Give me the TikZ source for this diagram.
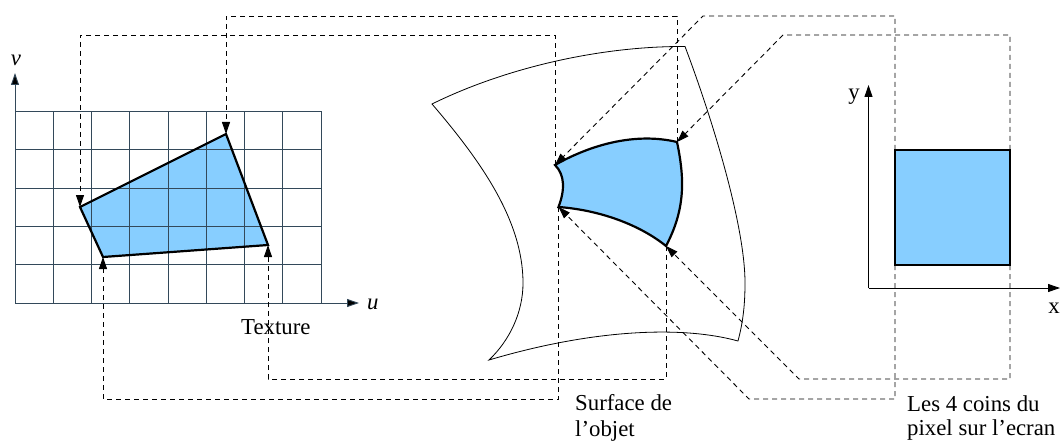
\documentclass[tikz,border=0pt]{standalone}
\usepackage{fontspec}
\setmainfont{Liberation Serif}
\usepackage{tikz}
\usetikzlibrary{arrows.meta,positioning}
\definecolor{patchblue}{HTML}{87CEFF}
\definecolor{gridslate}{HTML}{33495A}

\begin{document}
\begin{tikzpicture}[x=1pt, y=-1pt, line join=miter,
    every node/.style={font=\fontsize{22.8}{26}\selectfont, inner sep=0pt},
    gridline/.style={draw=gridslate, line width=1pt},
    axis/.style={line width=0.9pt, -{Triangle[length=12pt, width=8pt]}},
    patch/.style={draw=black, line width=2.2pt, fill=patchblue},
    outer/.style={draw=black, line width=0.8pt},
    link/.style={line width=0.9pt, dash pattern=on 5pt off 4pt, -{Triangle[length=12pt, width=8pt]}}]
    \useasboundingbox (0,0) rectangle (1060,441);

    % corners of the three quads
    \coordinate (ta) at (80,207);
    \coordinate (tb) at (226,134);
    \coordinate (tc) at (268,245);
    \coordinate (td) at (103,257);
    \coordinate (sa) at (555,165);
    \coordinate (sb) at (677,142);
    \coordinate (sc) at (666,246);
    \coordinate (sd) at (558.5,207);
    \coordinate (pa) at (895,150);
    \coordinate (pb) at (1010,150);
    \coordinate (pc) at (1010,265);
    \coordinate (pd) at (895,265);
    % bends of the dashed links
    \coordinate (high) at (0,16);
    \coordinate (top) at (0,35);
    \coordinate (bot) at (0,379);
    \coordinate (low) at (0,399);
    \coordinate (sadiag) at (703,16);
    \coordinate (sbdiag) at (783,35);
    \coordinate (scdiag) at (799,379);
    \coordinate (sddiag) at (749,399);

    % texture
    \fill[patchblue] (ta) -- (tb) -- (tc) -- (td) -- cycle;
    \foreach \i in {0,...,8}
      \draw[gridline] ({15+38.25*\i},111.5) -- ({15+38.25*\i},303);
    \foreach \j in {0,...,5}
      \draw[gridline] (15,{111.5+38.3*\j}) -- (321,{111.5+38.3*\j});
    \draw[patch, fill=none] (ta) -- (tb) -- (tc) -- (td) -- cycle;
    \coordinate (torigin) at (15,303);
    \coordinate (uend) at (359,303);
    \coordinate (vend) at (15,73);
    \draw[axis, draw=gridslate, -{Triangle[length=12pt, width=8pt, fill=black]}] (torigin) -- (uend);
    \draw[axis, draw=gridslate, -{Triangle[length=12pt, width=8pt, fill=black]}] (torigin) -- (vend);
    \node[anchor=base] (vlabel) at (16,66) {\itshape v};
    \node[anchor=base west] (ulabel) at (367,309) {\itshape u};
    \node[anchor=base west] (texture) at (241,334) {Texture};

    % surface
    \draw[outer] (432,104) .. controls (505,68) and (600,46) .. (685,46.5)
      .. controls (712,118) and (745,225) .. (745,283)
      .. controls (745,305) and (743,322) .. (738,341)
      .. controls (680,325) and (590,330) .. (489,360)
      .. controls (510,340) and (523,312) .. (523,283)
      .. controls (523,220) and (480,160) .. cycle;
    \draw[patch] (sa) .. controls (590,145) and (635,132) .. (sb)
      .. controls (685,180) and (685,210) .. (sc)
      .. controls (640,225) and (600,210) .. (sd)
      .. controls (565,190) and (565,175) .. cycle;

    % screen
    \draw[patch] (pa) -- (pb) -- (pc) -- (pd) -- cycle;
    \coordinate (porigin) at (868.5,288);
    \coordinate (xend) at (1060,288);
    \coordinate (yend) at (868.5,85);
    \draw[axis] (porigin) -- (xend);
    \draw[axis] (porigin) -- (yend);
    \node[anchor=base] (ylabel) at (854,100) {y};
    \node[anchor=base east] (xlabel) at (1060,313) {x};

    % dashed links
    \draw[link] (sa) -- (sa |- top) -- (ta |- top) -- (ta);
    \draw[link] (sb) -- (sb |- high) -- (tb |- high) -- (tb);
    \draw[link] (sc) -- (sc |- bot) -- (tc |- bot) -- (tc);
    \draw[link] (sd) -- (sd |- low) -- (td |- low) -- (td);
    \draw[link] (pa) -- (pa |- high) -- (sadiag) -- (sa);
    \draw[link] (pb) -- (pb |- top) -- (sbdiag) -- (sb);
    \draw[link] (pc) -- (pc |- bot) -- (scdiag) -- (sc);
    \draw[link] (pd) -- (pd |- low) -- (sddiag) -- (sd);

    \node[anchor=base west] (surfacea) at (575,410) {Surface de};
    \node[anchor=base west] (surfaceb) at (575,436) {l’objet};
    \node[anchor=base west] (coinsa) at (907,411) {Les 4 coins du};
    \node[anchor=base west] (coinsb) at (907,435.5) {pixel sur l’ecran};
\end{tikzpicture}
\end{document}
